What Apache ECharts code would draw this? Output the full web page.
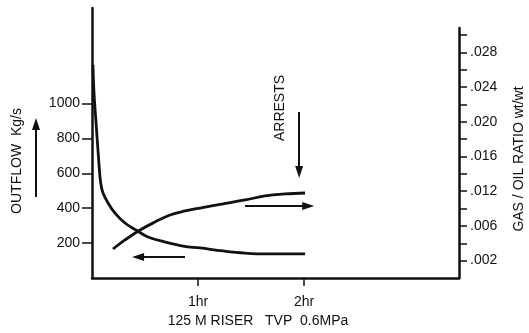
<!DOCTYPE html>
<html>
<head>
<meta charset="utf-8">
<script src="https://cdn.jsdelivr.net/npm/echarts@6/dist/echarts.min.js"></script>
<style>
  html, body { margin: 0; padding: 0; background: #fff; }
  #chart { width: 529px; height: 333px; }
</style>
</head>
<body>
<div id="chart"></div>
<script>
// outflow curve (left axis, Kg/s) against time in hours
const outflowTime = [0.009, 0.019, 0.041, 0.063, 0.082, 0.104, 0.151, 0.217, 0.311, 0.415, 0.528, 0.689, 0.858, 1.019, 1.236, 1.443, 1.651, 2.009];
const outflowKgs = [1221, 1060, 865, 676, 544, 487, 430, 372, 315, 275, 235, 206, 183, 172, 155, 143, 138, 138];

// gas / oil ratio curve (right axis, wt/wt)
const gorTime = [0.198, 0.311, 0.453, 0.594, 0.736, 0.877, 1.019, 1.236, 1.443, 1.632, 1.821, 2.009];
const gorRatio = [0.00334, 0.00438, 0.00553, 0.00645, 0.00726, 0.00772, 0.00806, 0.00853, 0.00899, 0.00945, 0.00968, 0.00979];

// axis ticks and labels
const timeTicks = [1, 2];
const timeLabels = ['1hr', '2hr'];
const outflowTicks = [200, 400, 600, 800, 1000];
const gorTicks = [0.002, 0.004, 0.006, 0.008, 0.010, 0.012, 0.014, 0.016, 0.018, 0.020, 0.022, 0.024, 0.026, 0.028];
const gorLabelPos = [0.002, 0.006, 0.010, 0.014, 0.018, 0.022, 0.026];
const gorLabels = ['.002', '.006', '.012', '.016', '.020', '.024', '.028'];

// arrows drawn in the plot (time hr, outflow Kg/s) -> (time hr, outflow Kg/s)
const arrows = [
  [[0.877, 120], [0.434, 120]],
  [[1.443, 413], [2.038, 413]],
  [[1.953, 951], [1.953, 607]]
];

const FONT = '"Liberation Sans", Arial, sans-serif';
const INK = '#111';

const chart = echarts.init(document.getElementById('chart'), null, { renderer: 'canvas' });

const toPairs = (xs, ys) => xs.map((x, i) => [x, ys[i]]);

const option = {
  animation: false,
  backgroundColor: '#fff',
  textStyle: { fontFamily: FONT, color: INK },
  grid: [
    { left: 92, right: 70, top: 8, bottom: 55, outerBoundsMode: 'none', containLabel: false },
    { left: 92, right: 70, top: 28, bottom: 55, outerBoundsMode: 'none', containLabel: false }
  ],
  xAxis: [
    {
      type: 'value', gridIndex: 0, min: 0, max: 3.46,
      name: '125 M RISER   TVP  0.6MPa',
      nameLocation: 'middle', nameGap: 36,
      nameTextStyle: { fontSize: 14, color: INK, fontFamily: FONT, padding: [0, 35, 0, 0] },
      axisLine: { onZero: false, lineStyle: { color: INK, width: 2.5 } },
      axisTick: { show: true, length: 8, customValues: timeTicks, lineStyle: { color: INK, width: 1.5 } },
      axisLabel: {
        customValues: timeTicks, margin: 17, fontSize: 14, color: INK, fontFamily: FONT,
        formatter: v => timeLabels[timeTicks.indexOf(v)] || ''
      },
      splitLine: { show: false }
    },
    {
      type: 'value', gridIndex: 1, min: 0, max: 3.46, show: false
    }
  ],
  yAxis: [
    {
      type: 'value', gridIndex: 0, min: 0, max: 1547, position: 'left',
      name: 'OUTFLOW  Kg/s',
      nameLocation: 'middle', nameGap: 68,
      nameTextStyle: { fontSize: 14, color: INK, fontFamily: FONT, padding: [0, 36, 0, 0] },
      axisLine: { show: true, onZero: false, lineStyle: { color: INK, width: 2.5 } },
      axisTick: { show: true, length: 10, customValues: outflowTicks, lineStyle: { color: INK, width: 1.5 } },
      axisLabel: {
        customValues: outflowTicks, margin: 12, fontSize: 14, color: INK, fontFamily: FONT,
        formatter: v => String(v)
      },
      splitLine: { show: false }
    },
    {
      type: 'value', gridIndex: 1, min: 0, max: 0.0288, position: 'right',
      name: 'GAS / OIL RATIO wt/wt',
      nameLocation: 'middle', nameGap: 53, nameRotate: 90,
      nameTextStyle: { fontSize: 14, color: INK, fontFamily: FONT, padding: [0, 12, 0, 0] },
      axisLine: { show: true, onZero: false, lineStyle: { color: INK, width: 2.5 } },
      axisTick: { show: true, length: 8, customValues: gorTicks, lineStyle: { color: INK, width: 1.5 } },
      axisLabel: {
        customValues: gorLabelPos, margin: 11, fontSize: 14, color: INK, fontFamily: FONT,
        formatter: v => {
          let best = 0;
          gorLabelPos.forEach((p, i) => { if (Math.abs(p - v) < Math.abs(gorLabelPos[best] - v)) best = i; });
          return gorLabels[best];
        }
      },
      splitLine: { show: false }
    }
  ],
  series: [
    {
      name: 'Outflow',
      type: 'line',
      xAxisIndex: 0, yAxisIndex: 0,
      data: toPairs(outflowTime, outflowKgs),
      smooth: 0.4,
      showSymbol: false,
      lineStyle: { color: INK, width: 2.8 },
      markLine: {
        silent: true,
        symbol: ['none', 'triangle'],
        symbolSize: [8, 12],
        label: { show: false },
        lineStyle: { color: INK, width: 2, type: 'solid' },
        data: arrows.map(a => [{ coord: a[0] }, { coord: a[1] }])
      }
    },
    {
      name: 'Gas / oil ratio',
      type: 'line',
      xAxisIndex: 1, yAxisIndex: 1,
      data: toPairs(gorTime, gorRatio),
      smooth: 0.4,
      showSymbol: false,
      lineStyle: { color: INK, width: 2.8 }
    }
  ],
  graphic: [
    {
      type: 'text', x: 280, y: 108, rotation: Math.PI / 2,
      style: { text: 'ARRESTS', fontSize: 14, fontFamily: FONT, fill: INK, align: 'center', verticalAlign: 'middle' }
    },
    {
      type: 'line', shape: { x1: 36, y1: 197, x2: 36, y2: 128 },
      style: { stroke: INK, lineWidth: 2 }
    },
    {
      type: 'polygon', shape: { points: [[36, 118], [32, 130], [40, 130]] },
      style: { fill: INK }
    }
  ]
};

chart.setOption(option);
</script>
</body>
</html>
